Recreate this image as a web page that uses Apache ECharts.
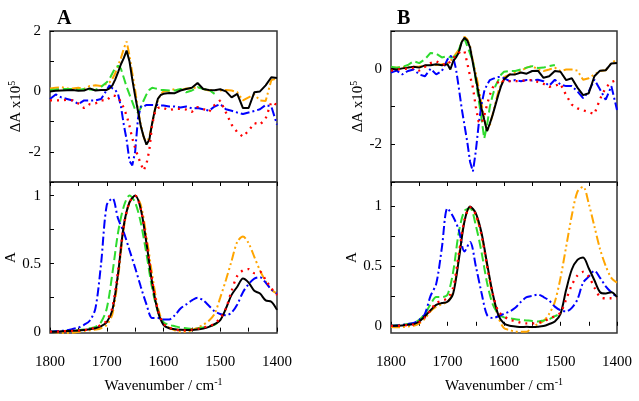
<!DOCTYPE html>
<html><head><meta charset="utf-8">
<script src="https://cdn.jsdelivr.net/npm/echarts@6/dist/echarts.min.js"></script>
<style>html,body{margin:0;padding:0;background:#fff}#c{width:639px;height:401px}</style>
</head><body><div id="c"></div>
<script>
// wavenumber grids (cm-1)
const wnTop = [1800,1790,1780,1770,1760,1750,1740,1730,1720,1710,
  1700,1695,1690,1685,1680,1675,1670,1665,1660,1655,1650,1645,1640,1635,1630,1625,1620,1615,1610,1605,
  1600,1590,1580,1570,1560,1550,1540,1530,1520,1510,1500,1490,1480,1470,1460,1450,1440,1430,1420,1410,1400];
const wnBot = [1800,1790,1780,1770,1760,1750,1740,1730,1720,1710,1700,1690,1680,1670,1660,1650,1640,1630,1620,1610,
  1600,1590,1580,1570,1560,1550,1540,1530,1520,1510,1500,1490,1480,1470,1460,1450,1440,1430,1420,1410,1400];
const xTicks = [1800,1700,1600,1500,1400];

// Panel A, difference spectra (dA x10^5)
const aTopBlack = [0,0.02,0.03,0.04,0.05,0.02,0.03,0.1,0.03,0.05,
  0.05,0.1,0.2,0.4,0.64,0.9,1.1,1.35,1.0,0.4,-0.15,-0.65,-1.15,-1.5,-1.76,-1.6,-1.05,-0.6,-0.25,-0.12,
  -0.08,-0.05,-0.06,0.03,0.08,0.12,0.28,0.08,0.05,0.04,0.07,0.0,-0.2,-0.08,-0.55,-0.55,-0.03,0.0,0.2,0.47,0.44];
const aTopOrange = [0.1,0.12,0.14,0.1,0.1,0.12,0.08,0.18,0.2,0.18,
  0.25,0.3,0.42,0.6,0.86,1.1,1.42,1.65,1.2,0.6,0.05,-0.6,-1.1,-1.5,-1.75,-1.5,-1.1,-0.6,-0.3,-0.1,
  0.0,0.02,0.08,0.03,0.1,0.1,0.14,0.08,0.03,0.05,0.03,0.05,0.03,-0.03,-0.3,-0.2,-0.1,-0.3,-0.32,0.38,0.42];
const aTopGreen = [0.05,0.06,0.08,0.08,0.08,0.05,0.08,0.06,0.05,0.15,
  0.3,0.42,0.6,0.78,0.85,0.75,0.45,0.15,-0.1,-0.35,-0.6,-0.7,-0.55,-0.3,-0.1,0.05,0.12,0.1,0.08,0.05,
  0.05,0.03,0.03,0.08,-0.03,0.03,0.14,0.08,0.05,-0.08,null,null,null,null,null,null,null,null,null,null,null];
const aTopBlue = [-0.25,-0.1,-0.2,-0.25,-0.3,-0.42,-0.3,-0.3,-0.3,-0.25,
  0.05,0.2,0.1,0.05,-0.1,-0.5,-1.1,-1.6,-2.3,-2.45,-2.0,-0.9,-0.5,-0.5,-0.45,-0.45,-0.45,-0.45,-0.45,-0.47,
  -0.47,-0.5,-0.5,-0.53,-0.5,-0.56,-0.55,-0.59,-0.64,-0.5,-0.42,-0.59,-0.64,-0.7,-0.75,-0.7,-0.65,-0.59,-0.45,-0.5,-1.1];
const aTopRed = [-0.3,-0.3,-0.3,-0.28,-0.3,-0.4,-0.55,-0.42,-0.4,-0.3,
  -0.3,-0.2,-0.14,-0.15,-0.2,-0.35,-0.55,-0.8,-1.14,-1.55,-1.87,-2.15,-2.4,-2.62,-2.4,-1.95,-1.1,-0.7,-0.55,-0.52,
  -0.55,-0.62,-0.58,-0.58,-0.6,-0.68,-0.52,-0.58,-0.68,-0.45,-0.3,-0.7,-1.1,-1.35,-1.5,-1.3,-1.05,-1.1,-0.9,-0.35,-0.45];

// Panel A, absorbance
const aBotBlack = [0,0,0.002,0.004,0.006,0.008,0.012,0.018,0.025,0.04,
  0.07,0.16,0.43,0.78,0.95,1.0,0.9,0.65,0.36,0.15,
  0.05,0.025,0.018,0.013,0.012,0.012,0.015,0.022,0.035,0.055,
  0.085,0.17,0.27,0.33,0.39,0.36,0.3,0.28,0.23,0.22,0.16];
const aBotOrange = [0,-0.005,-0.01,-0.01,-0.008,-0.002,0.005,0.01,0.015,0.025,
  0.05,0.13,0.4,0.76,0.95,1.0,0.93,0.7,0.42,0.18,
  0.06,0.03,0.01,0.0,0.0,0.01,0.03,0.05,0.08,0.13,
  0.25,0.38,0.52,0.66,0.7,0.65,0.55,0.45,0.37,0.31,0.28];
const aBotGreen = [0,0.002,0.004,0.006,0.008,0.01,0.015,0.025,0.035,0.07,
  0.17,0.43,0.73,0.92,1.0,0.95,0.8,0.57,0.32,0.15,
  0.07,0.05,0.04,0.03,0.025,0.02,0.025,0.03,0.04,0.05,
  0.08,null,null,null,null,null,null,null,null,null,null];
const aBotBlue = [0,0.003,0.006,0.01,0.02,0.03,0.05,0.08,0.17,0.5,
  0.93,0.98,0.83,0.73,0.6,0.47,0.33,0.2,0.1,0.1,
  0.09,0.09,0.12,0.17,0.2,0.23,0.25,0.23,0.19,0.15,
  0.13,0.12,0.14,0.2,0.29,0.35,0.39,0.4,0.36,0.31,0.28];
const aBotRed = [0,0,0.002,0.004,0.006,0.008,0.012,0.02,0.03,0.05,
  0.08,0.18,0.45,0.78,0.95,1.0,0.9,0.66,0.38,0.16,
  0.06,0.03,0.015,0.01,0.01,0.015,0.02,0.03,0.04,0.06,
  0.1,0.17,0.3,0.41,0.45,0.46,0.43,0.44,0.38,0.32,0.27];

// Panel B, difference spectra
const bTopBlack = [0,-0.02,0.01,0.03,0.05,0.03,0.09,0.09,0.12,0.09,
  0.12,-0.02,0.2,0.3,0.43,0.7,0.82,0.75,0.56,0.15,-0.24,-0.65,-1.04,-1.35,-1.65,-1.45,-1.22,-0.95,-0.69,-0.45,
  -0.28,-0.15,-0.15,-0.1,-0.13,-0.06,-0.05,-0.24,-0.2,-0.06,-0.08,-0.3,-0.25,-0.5,-0.7,-0.65,-0.2,-0.05,-0.04,0.14,0.15];
const bTopOrange = [0.02,0.03,0.05,0.04,0.05,0.06,0.08,0.1,0.1,0.12,
  0.15,0.2,0.3,0.4,0.5,0.7,0.85,0.78,0.6,0.2,-0.1,-0.5,-0.9,-1.3,-1.65,-1.5,-1.2,-0.9,-0.6,-0.4,
  -0.22,-0.15,-0.1,-0.06,0.03,0.07,-0.02,-0.06,-0.02,0.03,-0.06,-0.02,-0.02,-0.05,-0.29,-0.25,-0.15,-0.06,-0.04,0.15,0.25];
const bTopGreen = [0.05,0.03,0.05,0.1,0.2,0.15,0.25,0.42,0.4,0.3,
  0.33,0.3,0.3,0.35,0.5,0.7,0.8,0.6,0.4,0.2,-0.3,-0.8,-1.3,-1.85,-1.5,-1.0,-0.7,-0.45,-0.3,-0.15,
  -0.08,-0.06,-0.06,-0.02,0.03,0.07,0.02,0.03,0.07,0.1,null,null,null,null,null,null,null,null,null,null,null];
const bTopBlue = [-0.1,-0.05,-0.15,-0.06,-0.02,-0.15,-0.2,0.0,-0.15,-0.06,
  0.25,0.34,0.3,0.0,-0.5,-1.04,-1.49,-1.94,-2.47,-2.72,-2.2,-1.5,-0.96,-0.6,-0.42,-0.3,-0.27,-0.24,-0.22,-0.22,
  -0.25,-0.33,-0.3,-0.33,-0.3,-0.31,-0.29,-0.33,-0.45,-0.29,-0.42,-0.46,-0.46,-0.6,-0.78,-0.6,-0.29,-0.55,-0.82,-0.46,-1.09];
const bTopRed = [-0.05,-0.03,0.0,0.0,0.02,-0.05,0.05,0.15,0.2,0.12,
  0.1,0.2,0.28,0.35,0.42,0.47,0.47,0.15,-0.2,-0.5,-1.0,-1.4,-1.45,-1.25,-0.95,-0.69,-0.5,-0.42,-0.35,-0.28,
  -0.35,-0.33,-0.33,-0.33,-0.3,-0.3,-0.35,-0.4,-0.48,-0.45,-0.4,-0.7,-0.95,-1.05,-1.1,-1.15,-1.2,-0.8,-0.5,-0.35,-0.3];

// Panel B, absorbance
const bBotBlack = [0,0,0.003,0.008,0.014,0.036,0.08,0.13,0.175,0.19,
  0.2,0.27,0.55,0.87,0.995,0.94,0.78,0.52,0.27,0.09,
  0.02,0.0,-0.005,-0.01,-0.008,-0.01,-0.008,-0.002,0.015,0.036,
  0.1,0.3,0.47,0.55,0.57,0.48,0.38,0.28,0.27,0.28,0.24];
const bBotOrange = [-0.01,-0.012,-0.01,-0.005,0.0,0.02,0.06,0.12,0.16,0.18,
  0.2,0.28,0.58,0.88,0.99,0.92,0.76,0.5,0.25,0.07,
  -0.02,-0.035,-0.05,-0.05,-0.05,-0.01,0.015,0.04,0.1,0.2,
  0.4,0.66,0.92,1.12,1.16,1.02,0.83,0.64,0.5,0.4,0.36];
const bBotGreen = [0,0.005,0.01,0.015,0.025,0.05,0.1,0.18,0.24,0.24,
  0.26,0.45,0.78,0.96,0.98,0.84,0.62,0.36,0.18,0.1,
  0.07,0.064,0.055,0.05,0.045,0.04,0.036,0.045,0.055,0.08,
  0.1,null,null,null,null,null,null,null,null,null,null];
const bBotBlue = [0,0.003,0.008,0.015,0.025,0.05,0.1,0.25,0.35,0.65,
  0.98,0.91,0.8,0.62,0.7,0.5,0.28,0.09,0.065,0.08,
  0.1,0.12,0.15,0.2,0.24,0.25,0.26,0.24,0.21,0.16,
  0.13,0.12,0.15,0.22,0.36,0.41,0.46,0.4,0.33,0.28,0.24];
const bBotRed = [0,0,0.003,0.006,0.012,0.03,0.07,0.13,0.19,0.21,
  0.23,0.32,0.6,0.88,0.99,0.93,0.76,0.5,0.27,0.12,
  0.08,0.05,0.04,0.025,0.02,0.02,0.025,0.036,0.06,0.08,
  0.11,0.22,0.34,0.42,0.45,0.41,0.32,0.24,0.23,0.23,0.23];

const FONT = 'Liberation Serif';
const styles = {
  orange: {color:'#FFA500', type:[9,3,2,3,2,3], width:2},
  green:  {color:'#2EDB2E', type:[9,4], width:2},
  blue:   {color:'#0000FF', type:[9,3,2,3], width:2},
  black:  {color:'#000000', type:'solid', width:2},
  red:    {color:'#FF0000', type:[2,5], width:2.3}
};
function mk(key, xs, ys, xi, yi, smooth) {
  return {type:'line', name:key, xAxisIndex:xi, yAxisIndex:yi,
    data: xs.map((x,i)=>[x, ys[i]]), symbol:'none', showSymbol:false,
    smooth: smooth, connectNulls:false, animation:false,
    lineStyle: Object.assign({}, styles[key])};
}
const panels = [
  {xs:wnTop, xi:0, yi:0, sm:false, d:{orange:aTopOrange, green:aTopGreen, blue:aTopBlue, black:aTopBlack, red:aTopRed}},
  {xs:wnBot, xi:1, yi:1, sm:0.3, d:{orange:aBotOrange, green:aBotGreen, blue:aBotBlue, black:aBotBlack, red:aBotRed}},
  {xs:wnTop, xi:3, yi:2, sm:false, d:{orange:bTopOrange, green:bTopGreen, blue:bTopBlue, black:bTopBlack, red:bTopRed}},
  {xs:wnBot, xi:4, yi:3, sm:0.3, d:{orange:bBotOrange, green:bBotGreen, blue:bBotBlue, black:bBotBlack, red:bBotRed}}
];
const series = [];
panels.forEach(p => ['orange','green','blue','black','red'].forEach(k => series.push(mk(k, p.xs, p.d[k], p.xi, p.yi, p.sm))));

const txt = {fontFamily:FONT, fontSize:15, color:'#000'};
const richName = {
  a:{fontFamily:FONT, fontSize:15, color:'#000', lineHeight:18},
  s:{fontFamily:FONT, fontSize:10, color:'#000', lineHeight:10, verticalAlign:'top'}
};
const tickStyle = {show:true, inside:true, length:4, lineStyle:{color:'#000', width:1}};
function xAx(grid, pos, labels, name) {
  return {type:'value', gridIndex:grid, position:pos, min:1400, max:1800, inverse:true, interval:50,
    axisLine:{show:false}, splitLine:{show:false},
    axisTick: tickStyle,
    axisLabel: labels ? Object.assign({show:true, margin:22, formatter: v => xTicks.includes(v) ? String(v) : ''}, txt) : {show:false},
    name: name || '', nameLocation:'middle', nameGap:44,
    nameTextStyle:{fontFamily:FONT, fontSize:15, color:'#000', rich:richName}};
}
const xAxis = [
  Object.assign(xAx(0,'bottom',false), {axisTick:{show:false}}),
  xAx(1,'bottom',true,'{a|Wavenumber / cm}{s|-1}'),
  xAx(1,'top',false),
  Object.assign(xAx(2,'bottom',false), {axisTick:{show:false}}),
  xAx(3,'bottom',true,'{a|Wavenumber / cm}{s|-1}'),
  xAx(3,'top',false)
];
const dName = '{a|\u0394A x10}{s|5}';
const yAxis = [
  {type:'value', gridIndex:0, min:-3, max:2, interval:1, axisLine:{show:false}, splitLine:{show:false},
   axisTick:tickStyle, axisLabel:Object.assign({margin:9, formatter: v => (v % 2 === 0) ? String(v) : ''}, txt),
   name:dName, nameLocation:'middle', nameRotate:90, nameGap:25, nameTextStyle:{rich:richName}},
  {type:'value', gridIndex:1, min:-0.01, max:1.1, axisLine:{show:false}, splitLine:{show:false},
   axisTick:Object.assign({customValues:[0,0.25,0.5,0.75,1]}, tickStyle),
   axisLabel:Object.assign({margin:9, customValues:[0,0.5,1]}, txt),
   name:'A', nameLocation:'middle', nameRotate:90, nameGap:29, nameTextStyle:txt},
  {type:'value', gridIndex:2, min:-3, max:1, interval:1, axisLine:{show:false}, splitLine:{show:false},
   axisTick:tickStyle, axisLabel:Object.assign({margin:9, formatter: v => (v % 2 === 0) ? String(v) : ''}, txt),
   name:dName, nameLocation:'middle', nameRotate:90, nameGap:24, nameTextStyle:{rich:richName}},
  {type:'value', gridIndex:3, min:-0.06, max:1.2, axisLine:{show:false}, splitLine:{show:false},
   axisTick:Object.assign({customValues:[0,0.25,0.5,0.75,1]}, tickStyle),
   axisLabel:Object.assign({margin:9, customValues:[0,0.5,1]}, txt),
   name:'A', nameLocation:'middle', nameRotate:90, nameGap:31, nameTextStyle:txt}
];
const gridStyle = {show:true, borderColor:'#333', borderWidth:1.5, backgroundColor:'transparent', containLabel:false};
const chart = echarts.init(document.getElementById('c'), null, {renderer:'canvas'});
chart.setOption({
  backgroundColor:'#fff',
  animation:false,
  title:[
    {text:'A', left:57, top:9, padding:0, textStyle:{fontFamily:FONT, fontSize:20, fontWeight:'bold', color:'#000'}},
    {text:'B', left:397, top:9, padding:0, textStyle:{fontFamily:FONT, fontSize:20, fontWeight:'bold', color:'#000'}}
  ],
  grid:[
    Object.assign({left:50, top:31, width:227, height:151}, gridStyle),
    Object.assign({left:50, top:182, width:227, height:151}, gridStyle),
    Object.assign({left:391, top:31, width:226, height:151}, gridStyle),
    Object.assign({left:391, top:182, width:226, height:151}, gridStyle)
  ],
  xAxis: xAxis,
  yAxis: yAxis,
  series: series
});
</script></body></html>
